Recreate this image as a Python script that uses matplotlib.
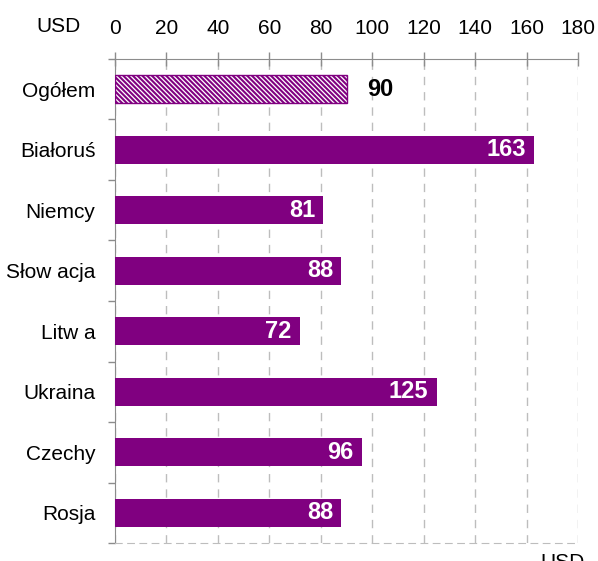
import matplotlib
matplotlib.use("Agg")
import matplotlib.pyplot as plt
import numpy as np

plt.rcParams['font.family'] = ['Liberation Sans', 'DejaVu Sans']
plt.rcParams['hatch.linewidth'] = 1.5

categories = ["Ogółem", "Białoruś", "Niemcy", "Słow acja", "Litw a", "Ukraina", "Czechy", "Rosja"]
values = [90, 163, 81, 88, 72, 125, 96, 88]
xticks = [0, 20, 40, 60, 80, 100, 120, 140, 160, 180]
unit = "USD"

purple = "#800080"
grey = "#8c8c8c"

fig = plt.figure(figsize=(5.98, 5.61), dpi=100)
ax = fig.add_axes([115/598, 1-543/561, 463/598, (543-59)/561])

y = np.arange(len(categories))
for i, (c, v) in enumerate(zip(categories, values)):
    if i == 0:
        ax.barh(i, v, height=0.47, color="white", edgecolor=purple, hatch="\\" * 7, linewidth=1.0, zorder=3)
        ax.annotate(str(v), (v, i), xytext=(15, 0), textcoords="offset points",
                    ha="left", va="center", fontsize=17, fontweight="bold", color="black", zorder=4)
    else:
        ax.barh(i, v, height=0.47, color=purple, edgecolor="none", zorder=3)
        ax.annotate(str(v), (v, i), xytext=(-6, 0), textcoords="offset points",
                    ha="right", va="center", fontsize=17, fontweight="bold", color="white", zorder=4)

ax.set_xlim(0, 180)
ax.set_ylim(len(categories) - 0.5, -0.5)
ax.xaxis.tick_top()
ax.set_xticks(xticks)
ax.set_xticklabels([str(t) for t in xticks], fontsize=15)
ax.tick_params(axis="x", direction="inout", length=10, width=1, color=grey, pad=10)

ax.set_yticks(y)
ax.set_yticklabels(categories, fontsize=15)
ax.tick_params(axis="y", which="major", length=0, pad=14)
ax.set_yticks(np.arange(len(categories) + 1) - 0.5, minor=True)
ax.tick_params(axis="y", which="minor", length=5, width=1, color=grey, direction="out")

ax.grid(axis="x", color="#bdbdbd", linestyle=(0, (6, 5)), linewidth=1, zorder=0)
ax.spines["top"].set_color(grey)
ax.spines["left"].set_color(grey)
ax.spines["right"].set_visible(False)
ax.spines["bottom"].set_color("#bdbdbd")
ax.spines["bottom"].set_linestyle((0, (6, 5)))

fig.text(58/598, 1-27/561, unit, fontsize=15, ha="center", va="center")
fig.text(540/598, 1-553/561, unit, fontsize=15, ha="left", va="top")

fig.savefig("out.png", dpi=100)
